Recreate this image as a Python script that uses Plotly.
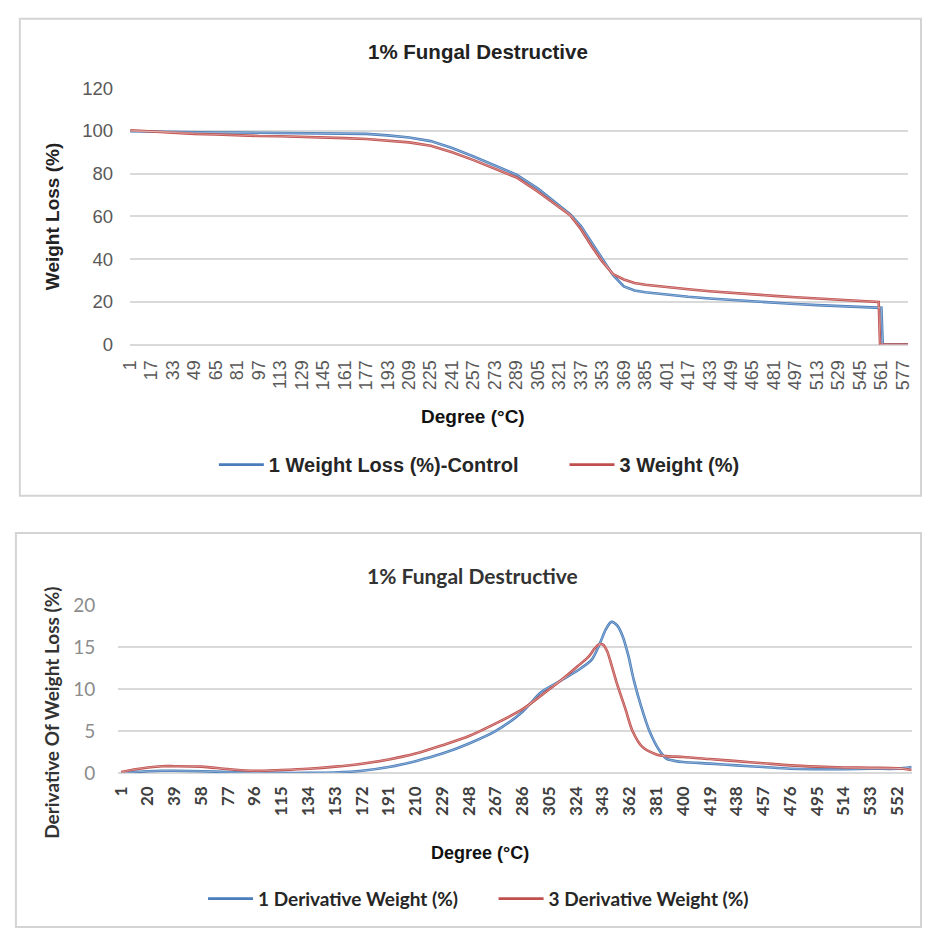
import plotly.graph_objects as go

W, H = 926, 939

# ---- top chart: weight loss (%) vs degree ----
top_tick_vals = list(range(1, 578, 16))

ctrl_deg = [1, 17, 33, 49, 65, 81, 97, 113, 129, 145, 161, 177, 193, 209, 225, 241,
            257, 273, 289, 305, 321, 329, 337, 345, 353, 361, 369, 377, 385, 401, 417,
            433, 449, 465, 481, 497, 513, 529, 545, 561, 562, 581]
ctrl_weight = [99.8, 99.6, 99.4, 99.3, 99.2, 99.2, 99.1, 99.1, 99.0, 99.0, 98.9, 98.6,
               97.9, 96.9, 95.2, 92.0, 88.0, 83.8, 79.5, 73.0, 65.0, 61.0, 55.5, 48.0,
               40.5, 32.5, 27.2, 25.3, 24.5, 23.3, 22.4, 21.6, 20.9, 20.2, 19.6, 19.0,
               18.5, 18.0, 17.6, 17.2, 0, 0]

w3_deg = [1, 17, 33, 49, 65, 81, 97, 113, 129, 145, 161, 177, 193, 209, 225, 241,
          257, 273, 289, 305, 321, 329, 337, 345, 353, 361, 369, 377, 385, 401, 417,
          433, 449, 465, 481, 497, 513, 529, 545, 559, 560, 581]
w3_weight = [100.3, 99.7, 99.0, 98.6, 98.3, 97.8, 97.6, 97.5, 97.3, 96.9, 96.6, 96.2,
             95.5, 94.6, 93.0, 90.0, 86.3, 82.3, 78.2, 71.5, 64.0, 60.5, 54.0, 46.0,
             38.8, 33.0, 30.5, 28.8, 28.0, 26.8, 25.9, 25.0, 24.2, 23.5, 22.8, 22.2,
             21.6, 21.0, 20.5, 20.0, 0, 0]

# ---- bottom chart: derivative weight (%) vs degree ----
bot_tick_vals = list(range(1, 553, 19))

d1_deg = [1, 10, 20, 30, 39, 58, 77, 96, 115, 134, 153, 172, 191, 210, 229, 248, 267,
          286, 299, 313, 325, 335, 341, 345, 349, 353, 357, 361, 365, 370, 376, 383,
          388, 395, 400, 419, 438, 457, 476, 495, 514, 533, 552, 562]
d1_val = [0, 0.1, 0.2, 0.25, 0.25, 0.2, 0.1, 0.05, 0, 0, 0.05, 0.25, 0.7, 1.4, 2.3,
          3.5, 5.0, 7.3, 9.6, 11.0, 12.2, 13.5, 15.5, 17.1, 18.0, 17.6, 16.3, 14.0,
          11.0, 8.0, 5.0, 2.7, 1.7, 1.4, 1.3, 1.1, 0.9, 0.7, 0.5, 0.45, 0.45, 0.5,
          0.5, 0.7]

d3_deg = [1, 10, 20, 30, 39, 58, 77, 96, 115, 134, 153, 172, 191, 210, 229, 248, 267,
          286, 299, 313, 325, 333, 337, 340, 343, 346, 349, 353, 359, 364, 371, 381,
          388, 400, 419, 438, 457, 476, 495, 514, 533, 552, 562]
d3_val = [0.1, 0.4, 0.65, 0.8, 0.8, 0.75, 0.45, 0.25, 0.35, 0.5, 0.75, 1.1, 1.6, 2.3,
          3.3, 4.4, 5.9, 7.6, 9.2, 11.0, 12.7, 13.9, 14.8, 15.3, 15.3, 14.5, 12.9,
          10.6, 7.6, 5.0, 3.1, 2.2, 2.0, 1.9, 1.65, 1.4, 1.15, 0.9, 0.75, 0.65, 0.6,
          0.55, 0.35]

BLUE = "#4a7ebb"
RED = "#c0504d"
ARIAL = "Liberation Sans, Arial, sans-serif"
CALIBRI = "Lato, Carlito, Calibri, sans-serif"


def px(x):
    return x / W


def py(y):
    return 1 - y / H


fig = go.Figure()

series = [
    (ctrl_deg, ctrl_weight, "1 Weight Loss (%)-Control", BLUE, "x", "y", "legend", "linear"),
    (w3_deg, w3_weight, "3 Weight (%)", RED, "x", "y", "legend2", "linear"),
    (d1_deg, d1_val, "1 Derivative Weight (%)", BLUE, "x2", "y2", "legend3", "spline"),
    (d3_deg, d3_val, "3 Derivative Weight (%)", RED, "x2", "y2", "legend4", "spline"),
]
for xs, ys, name, color, xa, ya, lg, shape in series:
    fig.add_trace(go.Scatter(x=xs, y=ys, mode="lines", name=name,
                             line=dict(color=color, width=2.6, shape=shape, smoothing=0.8),
                             xaxis=xa, yaxis=ya, legend=lg))
# light centre stripe seen on the Excel lines
for xs, ys, name, color, xa, ya, lg, shape in series:
    fig.add_trace(go.Scatter(x=xs, y=ys, mode="lines", showlegend=False, hoverinfo="skip",
                             line=dict(color="rgba(255,255,255,0.55)", width=0.7,
                                       shape=shape, smoothing=0.8),
                             xaxis=xa, yaxis=ya))

grid = "#d9d9d9"

fig.update_layout(
    width=W, height=H,
    margin=dict(l=0, r=0, t=0, b=0),
    paper_bgcolor="white", plot_bgcolor="white",
    showlegend=True,
    xaxis=dict(domain=[px(122), px(912)], range=[1, 581], tickvals=top_tick_vals,
               tickangle=-90, showgrid=False, zeroline=False, showline=False,
               ticks="", ticklabelstandoff=11,
               tickfont=dict(family=ARIAL, size=18, color="#595959"), anchor="y"),
    yaxis=dict(domain=[py(341), py(78)], range=[0, 120], dtick=20, showgrid=True,
               gridcolor=grid, gridwidth=1.5, zeroline=True, zerolinecolor=grid,
               zerolinewidth=1.5, showline=False, ticks="", ticklabelstandoff=16,
               tickfont=dict(family=ARIAL, size=18.5, color="#595959"), anchor="x"),
    xaxis2=dict(domain=[px(110), px(916)], range=[-1, 562.5], tickvals=bot_tick_vals,
                tickangle=-90, showgrid=False, zeroline=False, showline=False,
                ticks="", ticklabelstandoff=9,
                tickfont=dict(family=CALIBRI, size=17, color="#404040", weight="bold"),
                anchor="y2"),
    yaxis2=dict(domain=[py(780), py(608)], range=[0, 20], dtick=5, showgrid=True,
                gridcolor=grid, gridwidth=1.5, zeroline=True, zerolinecolor=grid,
                zerolinewidth=1.5, showline=False, ticks="", ticklabelstandoff=22,
                tickfont=dict(family=CALIBRI, size=19, color="#8c8c8c"), anchor="x2"),
)

legend_common = dict(orientation="h", xanchor="left", yanchor="middle",
                     bgcolor="rgba(0,0,0,0)", itemwidth=45, borderwidth=0)
fig.update_layout(
    legend=dict(x=px(207), y=py(464), font=dict(family=ARIAL, size=20, color="#262626",
                                                 weight="bold"), **legend_common),
    legend2=dict(x=px(563), y=py(464), font=dict(family=ARIAL, size=20, color="#262626",
                                                  weight="bold"), **legend_common),
    legend3=dict(x=px(196), y=py(909), font=dict(family=CALIBRI, size=19, color="#262626",
                                                  weight="bold"), **legend_common),
    legend4=dict(x=px(491), y=py(909), font=dict(family=CALIBRI, size=19, color="#262626",
                                                  weight="bold"), **legend_common),
)

annotations = [
    dict(text="1% Fungal Destructive", x=px(475), y=py(40),
         font=dict(family=ARIAL, size=20.5, color="#222222", weight="bold")),
    dict(text="Weight Loss (%)", x=px(44), y=py(210), textangle=-90,
         font=dict(family=ARIAL, size=19, color="#222222", weight="bold")),
    dict(text="Degree (°C)", x=px(470), y=py(415),
         font=dict(family=ARIAL, size=19, color="#111111", weight="bold")),
    dict(text="1% Fungal Destructive", x=px(470), y=py(578),
         font=dict(family=CALIBRI, size=21, color="#333333", weight="bold")),
    dict(text="Derivative Of Weight Loss (%)", x=px(42), y=py(718), textangle=-90,
         font=dict(family=CALIBRI, size=19, color="#333333", weight="bold")),
    dict(text="Degree (°C)", x=px(477), y=py(862),
         font=dict(family=ARIAL, size=18, color="#111111", weight="bold")),
]
for a in annotations:
    a.update(xref="paper", yref="paper", showarrow=False, xanchor="center", yanchor="middle")
fig.update_layout(annotations=annotations)

box = dict(type="rect", xref="paper", yref="paper", line=dict(color="#d4d4d4", width=2),
           fillcolor="rgba(0,0,0,0)", layer="below")
fig.update_layout(shapes=[
    dict(x0=px(10), x1=px(925), y0=py(496), y1=py(7), **box),
    dict(x0=px(6), x1=px(925), y0=py(938), y1=py(534), **box),
])

fig.write_html("out.html", config={"displayModeBar": False},
               post_script="document.body.style.margin='0px';")
